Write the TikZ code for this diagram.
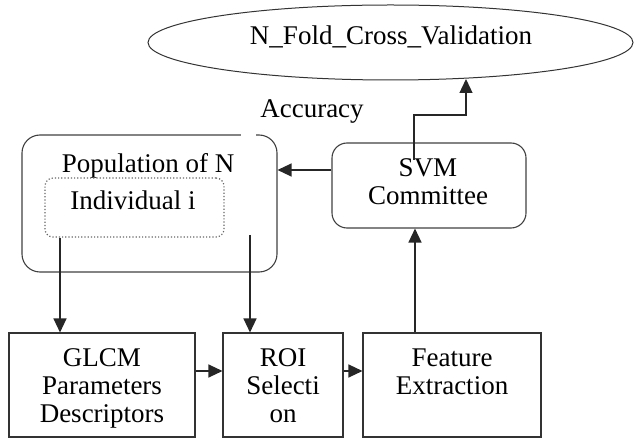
\documentclass[tikz,border=0pt]{standalone}
\usepackage{fontspec}
\setmainfont{Liberation Serif}
\newfontfamily\tnr{Liberation Serif}
\usetikzlibrary{shapes.geometric,arrows.meta}
\begin{document}
\begin{tikzpicture}[x=1pt,y=-1pt,
  txt/.style={font=\tnr\fontsize{27}{28}\selectfont, inner sep=0pt, anchor=base},
  sq/.style={draw=black!80, line width=1.1pt, inner sep=0pt},
  rbox/.style={draw=black!75, line width=1.1pt, rounded corners=18pt, inner sep=0pt},
  dbox/.style={draw=black!60, dotted, line width=1.2pt, rounded corners=8pt, inner sep=0pt},
  arr/.style={draw=black!85, line width=1.3pt, -{Triangle[length=14pt,width=13pt]}},
  ln/.style={draw=black!85, line width=1.3pt}]
\useasboundingbox (0,0) rectangle (635,438);

% top ellipse
\node[ellipse, draw=black!80, line width=1pt, minimum width=485pt, minimum height=75pt, inner sep=0pt] (cv) at (390.5,42.5) {};
\node[txt] (cvt) at (391,45) {N\_Fold\_Cross\_Validation};
\node[txt] (acc) at (312,118) {Accuracy};

% population box
\node[rbox, minimum width=255pt, minimum height=137pt] (pop) at (149.5,203.5) {};
\draw[white, line width=3pt] (241,135) -- (256,135);
\node[txt] (popt) at (148,173) {Population of N};
\node[dbox, minimum width=179pt, minimum height=59pt] (ind) at (134.5,207.5) {};
\node[txt] (indt) at (133,210) {Individual i};

% SVM committee
\node[rbox, rounded corners=15pt, minimum width=194pt, minimum height=85pt] (svm) at (429,185.5) {};
\node[txt] (svmt1) at (428,177) {SVM};
\node[txt] (svmt2) at (428,205) {Committee};

% bottom boxes
\node[sq, minimum width=186pt, minimum height=104pt] (glcm) at (102,385) {};
\node[txt] (glcm1) at (102,367) {GLCM};
\node[txt] (glcm2) at (102,395) {Parameters};
\node[txt] (glcm3) at (102,423) {Descriptors};

\node[sq, minimum width=120pt, minimum height=104pt] (roi) at (283,385) {};
\node[txt] (roi1) at (283,367) {ROI};
\node[txt] (roi2) at (283,395) {Selecti};
\node[txt] (roi3) at (283,423) {on};

\node[sq, minimum width=178pt, minimum height=104pt] (feat) at (452,385) {};
\node[txt] (feat1) at (452,367) {Feature};
\node[txt] (feat2) at (452,395) {Extraction};

% connectors
\coordinate (g1) at (60,0);
\draw[arr] (ind.south -| g1) -- (glcm.north -| g1);
\coordinate (r1) at (250,235);
\draw[arr] (r1) -- (roi.north -| r1);
\coordinate (h1) at (0,170);
\draw[arr] (svm.west |- h1) -- (pop.east |- h1);
\coordinate (v1) at (415,0);
\draw[arr] (feat.north -| v1) -- (svm.south -| v1);
\coordinate (s1) at (414,160);
\coordinate (s2) at (466,115);
\coordinate (s3) at (466,79);
\draw[arr] (s1) |- (s2) -- (s3);
\coordinate (h2) at (0,371);
\draw[arr] (glcm.east |- h2) -- (roi.west |- h2);
\draw[arr] (roi.east |- h2) -- (feat.west |- h2);
\end{tikzpicture}
\end{document}
